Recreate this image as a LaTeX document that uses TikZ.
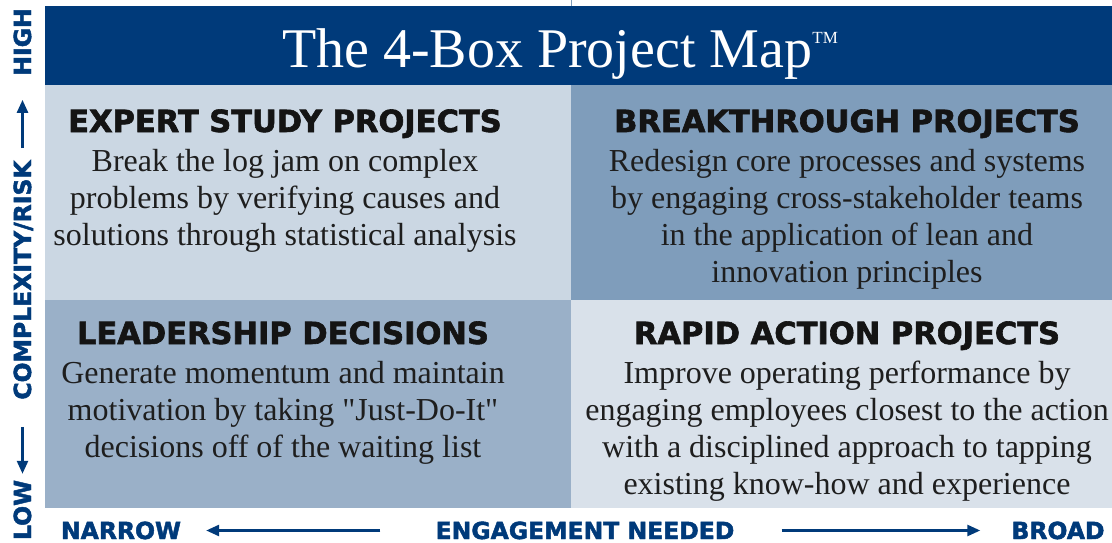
\documentclass[tikz,border=0pt]{standalone}
\usepackage{fontspec}
\setmainfont{Liberation Serif}[Ligatures=TeXOff]
\newfontfamily\headfont{DejaVu Sans}[BoldFeatures={FakeBold=2}]
\usetikzlibrary{positioning,arrows.meta}

\definecolor{mapblue}{RGB}{0,58,122}
\definecolor{expertfill}{RGB}{203,215,227}
\definecolor{breakfill}{RGB}{127,157,187}
\definecolor{leadfill}{RGB}{154,176,200}
\definecolor{rapidfill}{RGB}{217,225,234}
\definecolor{headblack}{RGB}{20,20,20}
\definecolor{bodyblack}{RGB}{30,30,30}

\begin{document}
\begin{tikzpicture}[
  x=1pt, y=-1pt,
  >={Triangle[length=13pt,width=11pt]},
  cell/.style={
     anchor=north west,
     inner sep=0pt,
     outer sep=0pt,
     minimum width=526pt,
     minimum height=#1
  },
  head/.style={
     anchor=base,
     inner sep=0pt,
     text=headblack,
     font=\headfont\bfseries\fontsize{30.5}{30.5}\selectfont
  },
  % base of a multi-line node is its last line
  blurb/.style={
     anchor=base,
     inner sep=0pt,
     align=center,
     text=bodyblack,
     font=\fontsize{32}{37}\selectfont
  },
  axis/.style={
     anchor=base,
     inner sep=0pt,
     text height=17pt,
     text depth=0pt,
     text=mapblue,
     font=\headfont\bfseries\fontsize{23.5}{23.5}\selectfont
  },
  axisline/.style={->, line width=2.6pt, draw=mapblue}
]

\path[use as bounding box] (0,0) rectangle (1112,543);

% banner
\draw[line width=0.6pt, breakfill] (571,0) -- (571,6);
\fill[mapblue] (45,6) rectangle (1112,85);
\node[anchor=base, inner sep=0pt, text=white, font=\fontsize{56}{56}\selectfont]
     (title) at (560,67)
     {The 4-Box Project Map\raisebox{24pt}{\fontsize{17}{17}\selectfont TM}};

% the four boxes
\node[cell=215pt, fill=expertfill] (expert) at (45,85)  {};
\node[cell=215pt, fill=breakfill, minimum width=541pt] (break) at (571,85) {};
\node[cell=208pt, fill=leadfill]   (lead)   at (45,300)  {};
\node[cell=208pt, fill=rapidfill, minimum width=541pt] (rapid) at (571,300) {};

\node[head]  (experthead) at (285,132) {EXPERT STUDY PROJECTS};
\node[blurb] (expertbody) at (285,245)
     {Break the log jam on complex\\
      problems by verifying causes and\\
      solutions through statistical analysis};

\node[head]  (breakhead) at (847,132) {BREAKTHROUGH PROJECTS};
\node[blurb] (breakbody) at (847,282)
     {Redesign core processes and systems\\
      by engaging cross-stakeholder teams\\
      in the application of lean and\\
      innovation principles};

\node[head]  (leadhead) at (283,344) {LEADERSHIP DECISIONS};
\node[blurb] (leadbody) at (283,457)
     {Generate momentum and maintain\\
      motivation by taking "Just-Do-It"\\
      decisions off of the waiting list};

\node[head]  (rapidhead) at (847,344) {RAPID ACTION PROJECTS};
\node[blurb] (rapidbody) at (847,494)
     {Improve operating performance by\\
      engaging employees closest to the action\\
      with a disciplined approach to tapping\\
      existing know-how and experience};

% complexity axis
\node[axis, rotate=90] (high) at (31,42)  {HIGH};
\node[axis, rotate=90] (risk) at (31,280) {COMPLEXITY/RISK};
\node[axis, rotate=90] (low)  at (31,510) {LOW};

\draw[axisline, shorten <=12pt, shorten >=24pt] (risk.east) -- (high.west);
\draw[axisline, shorten <=27pt, shorten >=6pt]  (risk.west) -- (low.east);

% engagement axis
\node[axis] (narrow) at (121,539)  {NARROW};
\node[axis] (need)   at (585,539)  {ENGAGEMENT NEEDED};
\node[axis] (broad)  at (1058,539) {BROAD};

\draw[axisline, shorten <=55pt, shorten >=25pt] (need.west) -- (narrow.east);
\draw[axisline, shorten <=47pt, shorten >=31pt] (need.east) -- (broad.west);

\end{tikzpicture}
\end{document}
